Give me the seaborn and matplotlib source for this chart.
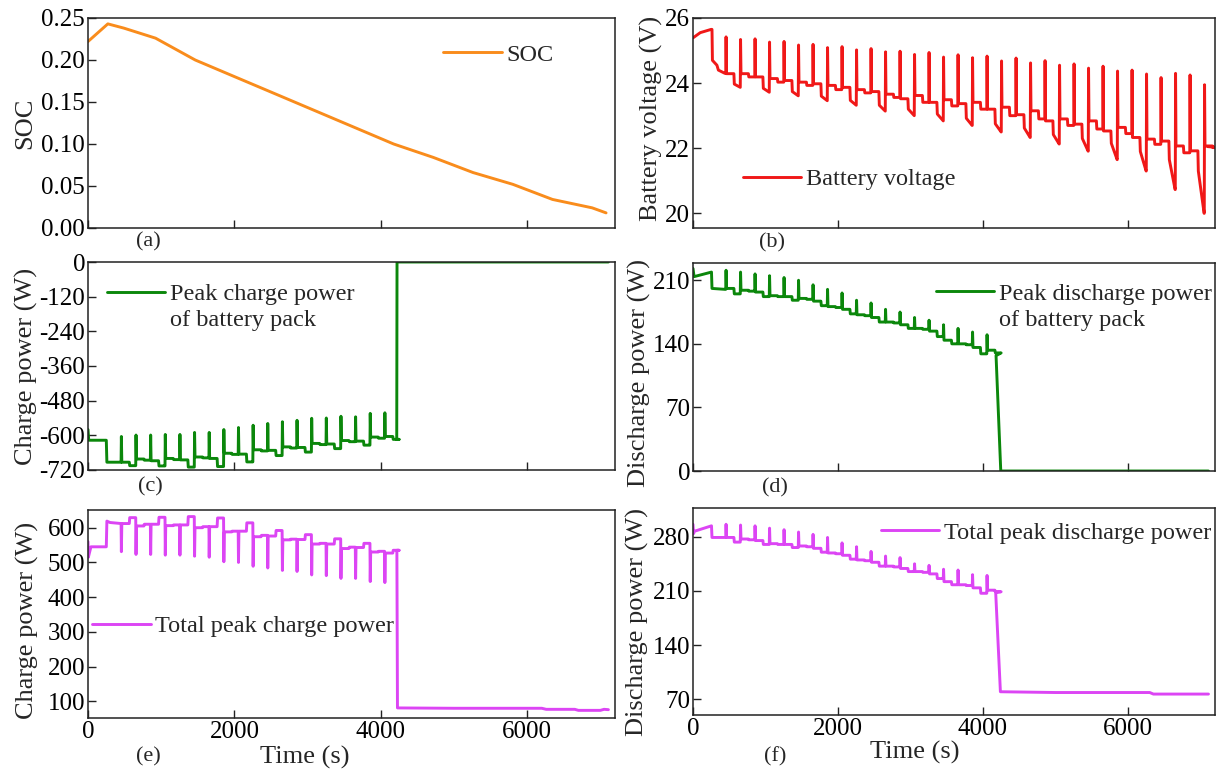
import numpy as np
import pandas as pd
import matplotlib
matplotlib.use("Agg")
import matplotlib.pyplot as plt
from matplotlib.lines import Line2D
import seaborn as sns

# ---------------- data ----------------
# time grid of the repeated pulses (s)
spike_t_all = np.arange(452, 7100, 200)          # 34 pulses for the voltage
spike_t_pow = spike_t_all[:19]                    # 19 pulses before 4200 s

# (a) SOC
soc_t = [0, 271, 488, 923, 1465, 2007, 2550, 3092, 3634, 4176, 4719, 5261, 5804, 6346, 6888, 7078]
soc_v = [0.222, 0.243, 0.238, 0.226, 0.200, 0.180, 0.160, 0.140, 0.120, 0.100, 0.084, 0.066, 0.052, 0.034, 0.024, 0.018]

# (b) battery voltage
v_init_t = [0, 100, 250, 262, 268, 330, 350, 440]
v_init_v = [25.39, 25.55, 25.65, 25.65, 24.70, 24.55, 24.40, 24.30]
v_peak = [25.42, 25.34, 25.36, 25.26, 25.28, 25.17, 25.19, 25.09, 25.12, 25.02, 25.06, 24.96,
          24.98, 24.88, 24.94, 24.80, 24.87, 24.78, 24.83, 24.68, 24.77, 24.62, 24.69, 24.55,
          24.59, 24.46, 24.52, 24.37, 24.40, 24.28, 24.17, 24.30, 24.25, 23.95]
v_plateau = [24.29, 24.29, 24.19, 24.14, 24.08, 24.03, 23.98, 23.93, 23.87, 23.80, 23.74, 23.66,
             23.52, 23.62, 23.41, 23.49, 23.37, 23.41, 23.20, 23.26, 23.03, 23.15, 22.84, 22.90,
             22.74, 22.84, 22.53, 22.64, 22.33, 22.28, 22.22, 22.07, 21.92, 22.07]
v_drop = [23.97, 24.19, 23.84, 24.03, 23.74, 23.93, 23.60, 23.80, 23.47, 23.70, 23.32, 23.56,
          23.20, 23.41, 23.05, 23.30, 22.92, 23.20, 22.75, 23.00, 22.62, 22.90, 22.42, 22.70,
          22.30, 22.59, 22.15, 22.45, 21.90, 22.12, 21.65, 21.86, 21.30, 22.02]
v_second = [23.87, 24.19, 23.72, 24.03, 23.61, 23.93, 23.46, 23.80, 23.32, 23.70, 23.14, 23.56,
            23.00, 23.41, 22.84, 23.30, 22.70, 23.20, 22.50, 23.00, 22.33, 22.90, 22.13, 22.70,
            21.91, 22.59, 21.65, 22.45, 21.30, 22.12, 20.73, 21.86, 20.00, 22.02]
v_tail_t = [7100]
v_tail_v = [22.05]

# (c) peak charge power of battery pack
c_init_t = [0, 10, 250, 258, 445]
c_init_v = [-580, -617, -617, -693, -693]
c_peak = [-604, -599, -599, -597, -597, -590, -590, -580, -573, -565, -559, -553, -548, -541,
          -540, -534, -536, -524, -522]
c_plateau = [-693, -682, -688, -680, -685, -675, -680, -662, -665, -650, -652, -640, -642, -628,
             -630, -618, -620, -606, -604]
c_second = [-705, -686, -706, -684, -710, -678, -708, -666, -692, -654, -670, -644, -658, -632,
            -646, -622, -634, -610, -614]
c_tail_t = [4218, 4222, 7110]
c_tail_v = [-614, 0, 0]

# (d) peak discharge power of battery pack
d_init_t = [0, 15, 255, 262, 440]
d_init_v = [223, 214, 219, 201, 200]
d_peak = [221, 219, 217, 215, 213, 210, 205, 200, 196, 188, 185, 178, 175, 169, 166, 161, 157, 153, 150]
d_plateau = [201, 199, 197, 193, 192, 190, 187, 181, 178, 172, 169, 164, 161, 157, 154, 144, 140, 136, 133]
d_second = [195, 198, 192, 192, 188, 189, 182, 180, 173, 171, 164, 163, 157, 156, 148, 140, 139, 129, 130]
d_tail_t = [4180, 4245, 7110]
d_tail_v = [127, 0, 0]

# (e) total peak charge power
e_init_t = [0, 5, 40, 250, 258, 300, 445]
e_init_v = [560, 515, 545, 545, 619, 615, 612]
e_peak = [531, 523, 523, 521, 521, 518, 515, 502, 500, 489, 484, 477, 474, 464, 462, 454, 454, 445, 442]
e_plateau = [612, 605, 610, 606, 608, 600, 603, 588, 590, 574, 576, 565, 566, 553, 553, 540, 543, 530, 527]
e_second = [629, 610, 630, 608, 632, 603, 628, 590, 614, 578, 592, 567, 580, 555, 568, 544, 555, 532, 535]
e_tail_t = [4220, 4228, 5000, 6200, 6260, 6650, 6700, 7000, 7050, 7110]
e_tail_v = [535, 81, 80, 80, 77, 77, 74, 74, 77, 76]

# (f) total peak discharge power
f_init_t = [0, 8, 20, 255, 262, 440]
f_init_v = [296, 284, 287, 294, 279, 279]
f_peak = [296, 295, 294, 291, 289, 286, 283, 279, 272, 267, 261, 255, 253, 245, 243, 238, 237, 231, 230]
f_plateau = [279, 277, 275, 271, 270, 268, 265, 259, 256, 250, 247, 242, 239, 235, 232, 222, 218, 214, 211]
f_second = [273, 276, 270, 270, 266, 267, 260, 258, 251, 249, 242, 241, 235, 234, 226, 218, 217, 207, 209]
f_tail_t = [4175, 4240, 5000, 6300, 6350, 7110]
f_tail_v = [208, 80, 79, 79, 77, 77]


def pulse_series(init_t, init_v, spikes, peak, plateau, second, tail_t, tail_v, drop=None):
    if drop is None:
        drop = second
    t = list(init_t)
    v = list(init_v)
    for k, s in enumerate(spikes):
        prev = v[-1]
        t += [s, s + 4, s + 10, s + 112, s + 118, s + 198]
        v += [prev, peak[k], plateau[k], plateau[k], drop[k], second[k]]
    t += list(tail_t)
    v += list(tail_v)
    return pd.DataFrame({"t": t, "v": v})


df_a = pd.DataFrame({"t": soc_t, "v": soc_v})
df_b = pulse_series(v_init_t, v_init_v, spike_t_all, v_peak, v_plateau, v_second, v_tail_t,
                    v_tail_v, drop=v_drop)
df_c = pulse_series(c_init_t, c_init_v, spike_t_pow, c_peak, c_plateau, c_second, c_tail_t, c_tail_v)
df_d = pulse_series(d_init_t, d_init_v, spike_t_pow, d_peak, d_plateau, d_second, d_tail_t, d_tail_v)
df_e = pulse_series(e_init_t, e_init_v, spike_t_pow, e_peak, e_plateau, e_second, e_tail_t, e_tail_v)
df_f = pulse_series(f_init_t, f_init_v, spike_t_pow, f_peak, f_plateau, f_second, f_tail_t, f_tail_v)

# ---------------- styling ----------------
sns.set_style("ticks")
plt.rcParams["font.family"] = ["Liberation Serif", "DejaVu Serif"]
plt.rcParams["axes.unicode_minus"] = False
plt.rcParams["xtick.direction"] = "in"
plt.rcParams["ytick.direction"] = "in"
FS = 18

W, H = 1223, 773
fig = plt.figure(figsize=(W / 100, H / 100), dpi=100)


def add_ax(x0, x1, y0, y1):
    return fig.add_axes([x0 / W, 1 - y1 / H, (x1 - x0) / W, (y1 - y0) / H])


ax_a = add_ax(88, 615, 18, 228)
ax_b = add_ax(693, 1215, 18, 228)
ax_c = add_ax(88, 615, 262, 470)
ax_d = add_ax(693, 1215, 263, 471)
ax_e = add_ax(88, 615, 510, 718)
ax_f = add_ax(693, 1215, 508, 715)

ORANGE = "#F98C1C"
RED = "#F01818"
GREEN = "#0B870B"
MAGENTA = "#DC45F4"
LW = 2.1

specs = [
    (ax_a, df_a, ORANGE),
    (ax_b, df_b, RED),
    (ax_c, df_c, GREEN),
    (ax_d, df_d, GREEN),
    (ax_e, df_e, MAGENTA),
    (ax_f, df_f, MAGENTA),
]
for ax, df, col in specs:
    sns.lineplot(data=df, x="t", y="v", ax=ax, color=col, linewidth=LW, sort=False,
                 estimator=None, legend=False)
    ax.set_xlim(0, 7200)
    ax.set_xticks([0, 2000, 4000, 6000])
    ax.set_xlabel("")
    for sp in ax.spines.values():
        sp.set_linewidth(1.1)
        sp.set_color("#222222")
    ax.tick_params(axis="both", labelsize=FS, length=6, width=1.0, pad=2, colors="#222222",
                   labelcolor="black")

for ax in (ax_a, ax_b, ax_c, ax_d):
    ax.set_xticklabels([])

ax_a.set_ylim(0, 0.25)
ax_a.set_yticks([0, 0.05, 0.10, 0.15, 0.20, 0.25])
ax_a.set_yticklabels(["0.00", "0.05", "0.10", "0.15", "0.20", "0.25"])
ax_b.set_ylim(19.55, 26)
ax_b.set_yticks([20, 22, 24, 26])
ax_c.set_ylim(-720, 0)
ax_c.set_yticks([0, -120, -240, -360, -480, -600, -720])
ax_d.set_ylim(0, 229)
ax_d.set_yticks([0, 70, 140, 210])
ax_e.set_ylim(52, 651)
ax_e.set_yticks([100, 200, 300, 400, 500, 600])
ax_f.set_ylim(50, 317)
ax_f.set_yticks([70, 140, 210, 280])

# y labels
ylabs = [
    (ax_a, "SOC", -0.099, 0.5),
    (ax_b, "Battery voltage (V)", -0.057, 0.52),
    (ax_c, "Charge power (W)", -0.095, 0.5),
    (ax_d, "Discharge power (W)", -0.08, 0.47),
    (ax_e, "Charge power (W)", -0.093, 0.47),
    (ax_f, "Discharge power (W)", -0.084, 0.45),
]
for ax, txt, xx, yy in ylabs:
    ax.set_ylabel(txt, fontsize=FS + 1)
    ax.yaxis.set_label_coords(xx, yy)

# legends
def one_legend(ax, col, labels, x, y):
    handles = [Line2D([], [], color=col, linewidth=LW)]
    if len(labels) > 1:
        handles.append(Line2D([], [], color="none"))
    ax.legend(handles, labels, loc="center left", bbox_to_anchor=(x, y), frameon=False,
              fontsize=17.5, handlelength=2.4, handletextpad=0.2, borderpad=0,
              borderaxespad=0, labelspacing=0.15)

one_legend(ax_a, ORANGE, ["SOC"], 0.674, 0.824)
one_legend(ax_b, RED, ["Battery voltage"], 0.096, 0.232)
one_legend(ax_c, GREEN, ["Peak charge power", "of battery pack"], 0.036, 0.784)
one_legend(ax_d, GREEN, ["Peak discharge power", "of battery pack"], 0.465, 0.79)
one_legend(ax_e, MAGENTA, ["Total peak charge power"], 0.008, 0.44)
one_legend(ax_f, MAGENTA, ["Total peak discharge power"], 0.36, 0.88)

# panel letters and x labels
def ftext(x, y, s, size=FS):
    fig.text(x / W, 1 - y / H, s, ha="center", va="center", fontsize=size)

ftext(148, 242, "(a)", 16)
ftext(772, 243, "(b)", 16)
ftext(150, 487, "(c)", 16)
ftext(775, 488, "(d)", 16)
ftext(148, 757, "(e)", 16)
ftext(775, 757, "(f)", 16)
ftext(305, 757, "Time (s)", FS + 1)
ftext(915, 752, "Time (s)", FS + 1)

fig.savefig("out.png", dpi=100, facecolor="white")
